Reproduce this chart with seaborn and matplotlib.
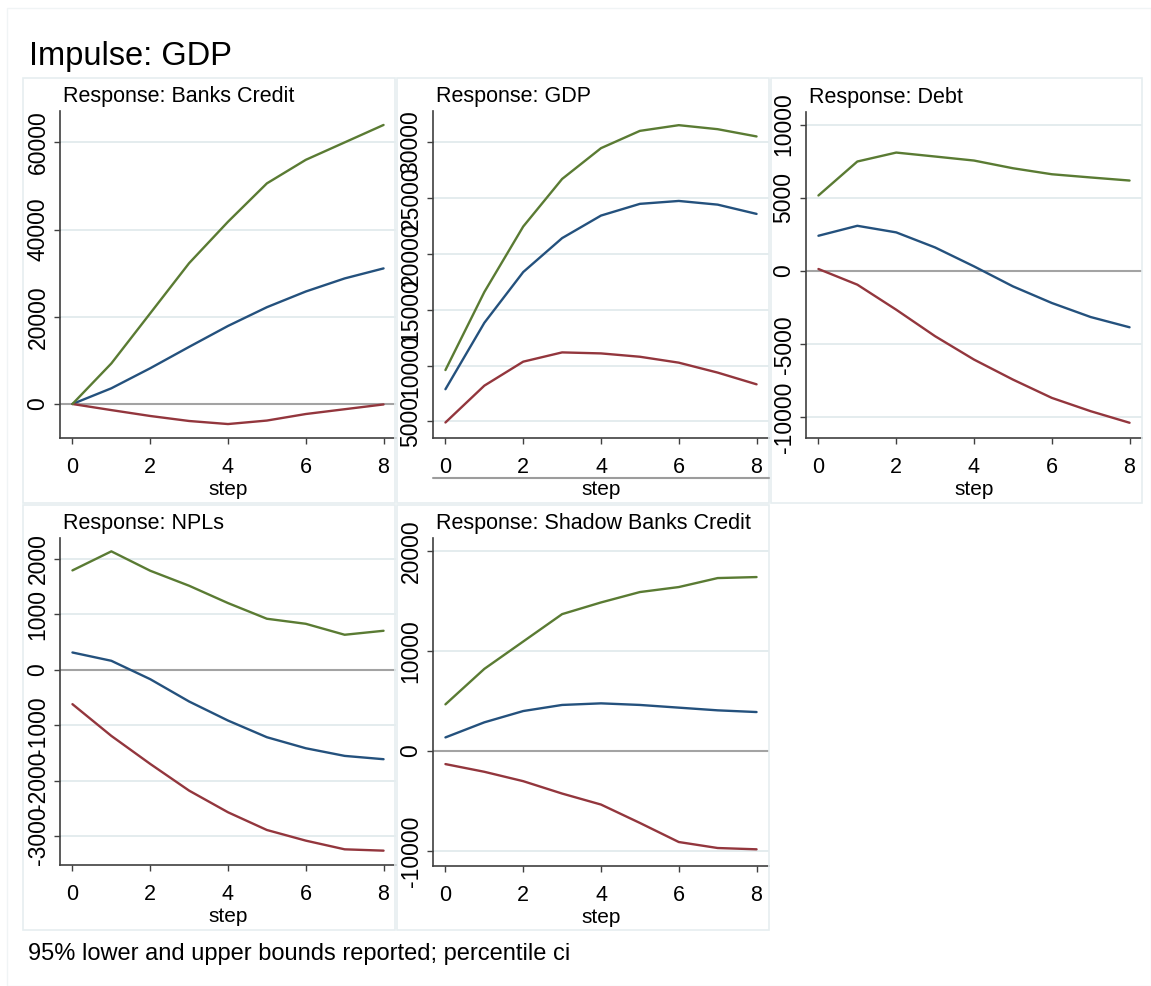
import numpy as np
import pandas as pd
import seaborn as sns
import matplotlib
matplotlib.use("Agg")
import matplotlib.pyplot as plt
from matplotlib.lines import Line2D
from matplotlib.patches import Rectangle

# ---- impulse response data (impulse: GDP) ----
steps = [0, 1, 2, 3, 4, 5, 6, 7, 8]

banks_upper = [0, 9300, 20800, 32300, 41800, 50600, 56000, 60000, 64000]
banks_irf = [0, 3600, 8200, 13100, 17900, 22200, 25800, 28800, 31100]
banks_lower = [0, -1400, -2750, -3900, -4600, -3800, -2300, -1200, -100]

gdp_upper = [9610, 16600, 22470, 26730, 29490, 31040, 31550, 31190, 30540]
gdp_irf = [7890, 13840, 18390, 21430, 23450, 24500, 24760, 24430, 23600]
gdp_lower = [4910, 8210, 10360, 11190, 11100, 10800, 10270, 9380, 8330]

debt_upper = [5160, 7480, 8090, 7820, 7545, 7020, 6610, 6390, 6180]
debt_irf = [2410, 3090, 2640, 1610, 320, -1045, -2180, -3140, -3840]
debt_lower = [140, -930, -2640, -4450, -6045, -7410, -8660, -9570, -10360]

npl_upper = [1795, 2139, 1789, 1518, 1205, 922, 831, 633, 705]
npl_irf = [313, 163, -169, -572, -916, -1217, -1416, -1554, -1614]
npl_lower = [-620, -1193, -1699, -2181, -2572, -2892, -3084, -3241, -3265]

shadow_upper = [4680, 8230, 10970, 13710, 14880, 15920, 16420, 17320, 17420]
shadow_irf = [1370, 2880, 4010, 4620, 4780, 4620, 4350, 4080, 3910]
shadow_lower = [-1300, -2070, -3010, -4250, -5350, -7190, -9100, -9700, -9830]

panel_titles = ["Response: Banks Credit", "Response: GDP", "Response: Debt",
                "Response: NPLs", "Response: Shadow Banks Credit"]
x_ticks = [0, 2, 4, 6, 8]
y_ticks = [
    [0, 20000, 40000, 60000],
    [5000, 10000, 15000, 20000, 25000, 30000],
    [-10000, -5000, 0, 5000, 10000],
    [-3000, -2000, -1000, 0, 1000, 2000],
    [-10000, 0, 10000, 20000],
]
y_limits = [(-7800, 67200), (3520, 32820), (-11400, 10860),
            (-3524, 2380), (-11500, 21330)]

series = [
    (banks_irf, banks_lower, banks_upper),
    (gdp_irf, gdp_lower, gdp_upper),
    (debt_irf, debt_lower, debt_upper),
    (npl_irf, npl_lower, npl_upper),
    (shadow_irf, shadow_lower, shadow_upper),
]

# ---- styling ----
sns.set_theme(style="white")
plt.rcParams["font.family"] = ["Liberation Sans", "DejaVu Sans"]
plt.rcParams["axes.unicode_minus"] = False
plt.rcParams["text.color"] = "black"
plt.rcParams["axes.labelcolor"] = "black"
plt.rcParams["xtick.color"] = "black"
plt.rcParams["ytick.color"] = "black"

NAVY = "#24517D"
MAROON = "#93363D"
GREEN = "#5A7B33"
palette = {"irf": NAVY, "lower": MAROON, "upper": GREEN}
GRID = "#E4ECEE"
SPINE = "#3F3F3F"
BORDER = "#E6EEF0"

W, H = 1151, 986
fig = plt.figure(figsize=(W / 100, H / 100), dpi=100)
fig.patch.set_facecolor("white")


def rect(l, t, r, b):
    return [l / W, 1 - b / H, (r - l) / W, (b - t) / H]


def fx(x):
    return x / W


def fy(y):
    return 1 - y / H


# faint outer frame and panel frames
fig.add_artist(Rectangle((fx(7), fy(986)), fx(1151 - 7), fy(8) - fy(986),
                         transform=fig.transFigure, fill=False,
                         edgecolor="#F0F4F5", linewidth=1.0))
panel_boxes = [(23, 78, 395, 503), (397, 78, 769, 503), (771, 78, 1142, 503),
               (23, 505, 395, 930), (397, 505, 769, 930)]
for (l, t, r, b) in panel_boxes:
    fig.add_artist(Rectangle((fx(l), fy(b)), fx(r - l), fy(t) - fy(b),
                             transform=fig.transFigure, fill=False,
                             edgecolor=BORDER, linewidth=1.2))

axes_px = [(60, 111, 396, 438), (433, 111, 769, 438), (806, 112, 1142, 438),
           (60, 538, 396, 865), (433, 538, 769, 866)]

for i, (box, (irf, lo, up)) in enumerate(zip(axes_px, series)):
    ax = fig.add_axes(rect(*box))
    ax.set_facecolor("white")
    df = pd.DataFrame({
        "step": steps * 3,
        "value": list(irf) + list(lo) + list(up),
        "series": ["irf"] * 9 + ["lower"] * 9 + ["upper"] * 9,
    })
    ax.axhline(0, color="#A3A3A3", linewidth=1.5, zorder=1.5)
    sns.lineplot(data=df, x="step", y="value", hue="series", palette=palette,
                 legend=False, ax=ax, linewidth=1.7, zorder=3)
    ax.set_xlim(-0.32, 8.32)
    ax.set_ylim(*y_limits[i])
    ax.set_xticks(x_ticks)
    ax.set_yticks(y_ticks[i])
    ax.set_yticklabels([str(v) for v in y_ticks[i]])
    ax.yaxis.grid(True, color=GRID, linewidth=1.4, zorder=0)
    ax.xaxis.grid(False)
    ax.set_axisbelow(True)
    for s in ["top", "right"]:
        ax.spines[s].set_visible(False)
    for s in ["left", "bottom"]:
        ax.spines[s].set_color(SPINE)
        ax.spines[s].set_linewidth(1.2)
    ax.tick_params(axis="both", direction="out", length=4.5, width=1.0,
                   color=SPINE, labelcolor="black", left=True, bottom=True)
    ax.tick_params(axis="x", pad=9.5, labelsize=15.5)
    ax.tick_params(axis="y", pad=3, labelrotation=90, labelsize=16.5)
    for lab in ax.get_yticklabels():
        lab.set_va("center")
    ax.set_xlabel("step", fontsize=15, labelpad=1, color="black")
    ax.set_ylabel("")
    fig.text(fx(box[0] + 3), fy(box[1] - 9), panel_titles[i],
             fontsize=15.5, ha="left", va="baseline", color="black")

# thin rule under the GDP panel's step axis
fig.add_artist(Line2D([fx(433), fx(769)], [fy(478), fy(478)],
                      transform=fig.transFigure, color="#9C9C9C", linewidth=1.5))

fig.text(fx(29), fy(65), "Impulse: GDP", fontsize=23.5, ha="left",
         va="baseline", color="black")
fig.text(fx(28), fy(960), "95% lower and upper bounds reported; percentile ci",
         fontsize=17, ha="left", va="baseline", color="black")

fig.savefig("out.png", dpi=100, facecolor="white")
